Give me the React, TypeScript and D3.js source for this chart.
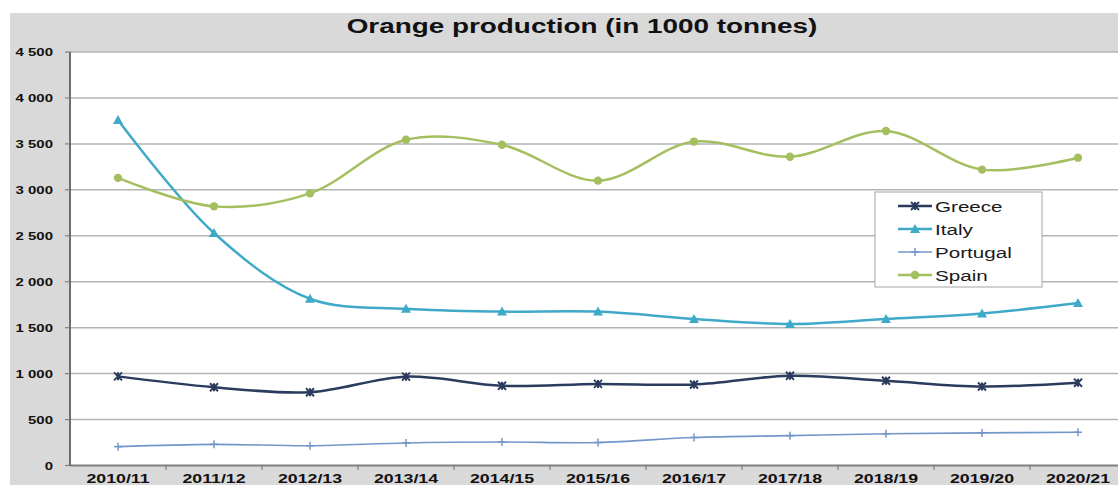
import React from 'react';
import * as d3 from 'd3';

const categories = ['2010/11', '2011/12', '2012/13', '2013/14', '2014/15', '2015/16', '2016/17', '2017/18', '2018/19', '2019/20', '2020/21'];
const greece = [970, 852, 798, 967, 868, 888, 882, 977, 922, 860, 900];
const italy = [3760, 2530, 1815, 1705, 1675, 1675, 1595, 1540, 1595, 1655, 1768];
const portugal = [205, 230, 215, 245, 255, 250, 305, 325, 345, 355, 362];
const spain = [3130, 2820, 2962, 3545, 3490, 3100, 3525, 3360, 3640, 3220, 3350];
const yTicks = [0, 500, 1000, 1500, 2000, 2500, 3000, 3500, 4000, 4500];
const seriesNames = ['Greece', 'Italy', 'Portugal', 'Spain'];
const seriesColors = ['#2b3b5e', '#3eaac8', '#7396c8', '#a3bf5f'];
const title = 'Orange production (in 1000 tonnes)';

const FONT = '"Liberation Sans", Arial, Helvetica, sans-serif';

function fmt(v: number) {
  const s = String(v);
  if (s.length > 3) return s.slice(0, s.length - 3) + ' ' + s.slice(-3);
  return s;
}

function SText({ x, y, sx = 1.35, anchor = 'start', size, weight = 'normal', children, fill = '#111' }: any) {
  return (
    <text transform={`translate(${x},${y}) scale(${sx},1)`} textAnchor={anchor} fontSize={size} fontWeight={weight} fontFamily={FONT} fill={fill}>
      {children}
    </text>
  );
}

function Marker({ kind, x, y, color }: { kind: number; x: number; y: number; color: string }) {
  if (kind === 0) {
    const s = 4;
    return (
      <g stroke={color} strokeWidth={2}>
        <line x1={x - s} y1={y - s} x2={x + s} y2={y + s} />
        <line x1={x - s} y1={y + s} x2={x + s} y2={y - s} />
        <line x1={x} y1={y - s} x2={x} y2={y + s} />
      </g>
    );
  }
  if (kind === 1) {
    const s = 5;
    return <path d={`M${x},${y - s}L${x + s},${y + s * 0.8}L${x - s},${y + s * 0.8}Z`} fill={color} />;
  }
  if (kind === 2) {
    const s = 4;
    return (
      <g stroke={color} strokeWidth={1.5}>
        <line x1={x - s} y1={y} x2={x + s} y2={y} />
        <line x1={x} y1={y - s} x2={x} y2={y + s} />
      </g>
    );
  }
  return <circle cx={x} cy={y} r={4.2} fill={color} />;
}

export default function App() {
  const W = 1118;
  const H = 485;
  const x = d3.scaleBand<string>().domain(categories).range([70, 1126]).padding(0);
  const y = d3.scaleLinear().domain([0, 4500]).range([465.5, 52]);
  const cx = (c: string) => (x(c) as number) + x.bandwidth() / 2;
  const allSeries = [greece, italy, portugal, spain];
  const widths = [2.5, 2.5, 1.6, 2.5];
  const line = d3
    .line<number>()
    .x((_, i) => cx(categories[i]))
    .y((v) => y(v))
    .curve(d3.curveCatmullRom.alpha(0.5));

  const legendX = 875;
  const legendY = 192;
  const rowYs = [206, 229, 252, 275];

  return (
    <svg width={W} height={H} style={{ position: 'absolute', left: 0, top: 0, background: '#fff' }}>
      <rect x={10} y={13} width={W - 10} height={H - 13} fill="#d9d9d9" />
      <rect x={70} y={52} width={W - 70} height={465.5 - 52} fill="#fff" />
      <SText x={582} y={33} anchor="middle" size={19.5} weight="bold" sx={1.43}>{title}</SText>
      {yTicks.map((t) => (
        <g key={t}>
          <line x1={70} x2={W} y1={y(t)} y2={y(t)} stroke={t === 0 ? '#808080' : '#b3b3b3'} strokeWidth={t === 0 ? 2 : 1.5} />
          <line x1={65} x2={70} y1={y(t)} y2={y(t)} stroke="#808080" strokeWidth={1.2} />
          <SText x={53} y={y(t) + 4} anchor="end" size={11.5} weight="bold" sx={1.3}>{fmt(t)}</SText>
        </g>
      ))}
      <line x1={70} x2={70} y1={52} y2={466} stroke="#6e6e6e" strokeWidth={2} />
      {categories.map((c, i) => (
        <g key={c}>
          <line x1={(x(c) as number) + x.bandwidth()} x2={(x(c) as number) + x.bandwidth()} y1={465.5} y2={470} stroke="#808080" strokeWidth={1.2} />
          <SText x={cx(c)} y={483} anchor="middle" size={12.5} weight="bold" sx={1.42}>{c}</SText>
        </g>
      ))}
      {allSeries.map((s, k) => (
        <g key={seriesNames[k]}>
          <path d={line(s) || ''} fill="none" stroke={seriesColors[k]} strokeWidth={widths[k]} />
          {s.map((v, i) => (
            <Marker key={i} kind={k} x={cx(categories[i])} y={y(v)} color={seriesColors[k]} />
          ))}
        </g>
      ))}
      <rect x={legendX} y={legendY} width={167} height={95} fill="#fff" stroke="#a6a6a6" strokeWidth={1} />
      {seriesNames.map((n, k) => (
        <g key={n}>
          <line x1={898} x2={932} y1={rowYs[k]} y2={rowYs[k]} stroke={seriesColors[k]} strokeWidth={widths[k]} />
          <Marker kind={k} x={915} y={rowYs[k]} color={seriesColors[k]} />
          <SText x={935} y={rowYs[k] + 5.5} size={15.5} sx={1.33} fill="#1a1a1a">{n}</SText>
        </g>
      ))}
    </svg>
  );
}
